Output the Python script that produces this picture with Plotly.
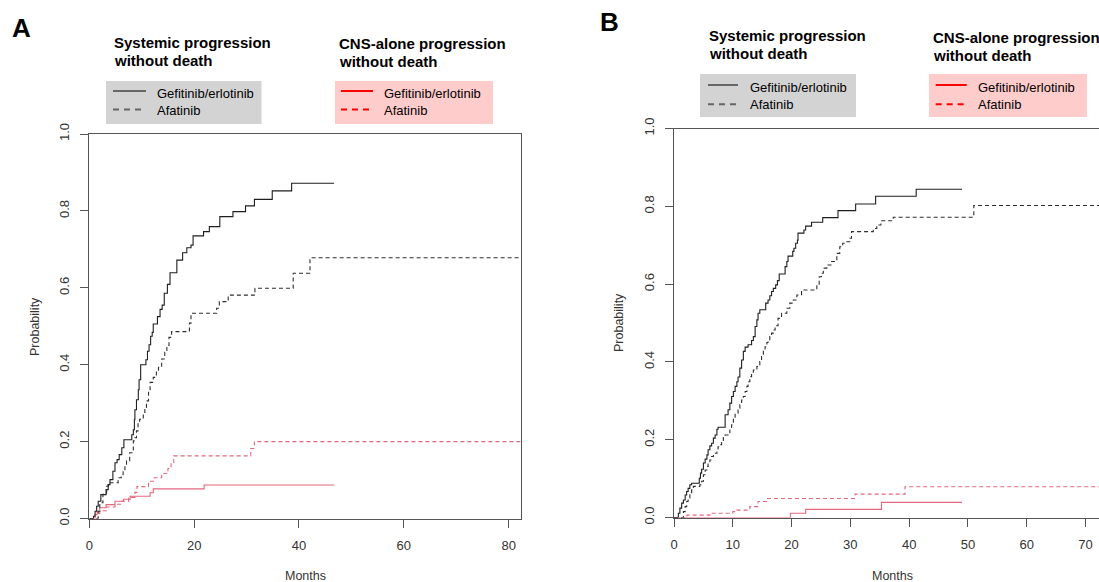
import plotly.graph_objects as go

W, H = 1099, 582

# ---------------- data (months, cumulative probability) ----------------
A_gef_sys_t = [0, 0.8, 1.1, 1.4, 1.7, 2.2, 3.2, 3.6, 3.95, 4.5, 4.9, 5.3, 5.7, 6.2, 6.6, 8.1, 8.4, 8.6, 8.7, 9.0,
               9.35, 9.5, 9.8, 10.8, 11.1, 11.4, 11.7, 12.0, 12.2, 13.0, 13.5, 13.9, 14.3, 14.9, 15.4, 16.7, 17.8,
               18.6, 19.4, 19.8, 21.8, 22.9, 24.9, 27.4, 29.8, 31.5, 34.9, 38.6, 46.7]
A_gef_sys_p = [0, 0.006, 0.019, 0.032, 0.045, 0.062, 0.075, 0.088, 0.101, 0.123, 0.145, 0.153, 0.166, 0.184, 0.205,
               0.218, 0.231, 0.257, 0.283, 0.309, 0.335, 0.361, 0.40, 0.413, 0.435, 0.452, 0.474, 0.484, 0.506, 0.525,
               0.544, 0.555, 0.586, 0.609, 0.639, 0.672, 0.691, 0.704, 0.711, 0.735, 0.746, 0.759, 0.785, 0.798,
               0.813, 0.830, 0.852, 0.872, 0.872]

A_afa_sys_t = [0, 1.7, 2.0, 2.6, 3.3, 3.6, 5.5, 6.1, 6.45, 6.8, 7.1, 7.7, 8.4, 8.7, 9.0, 9.3, 9.6, 10.3, 10.6, 10.9,
               11.3, 11.6, 12.2, 12.8, 13.2, 13.8, 14.4, 14.8, 15.2, 15.7, 19.1, 19.4, 24.3, 24.8, 26.5, 31.6, 38.9,
               42.1, 82.3]
A_afa_sys_p = [0, 0.019, 0.041, 0.063, 0.084, 0.093, 0.106, 0.110, 0.123, 0.137, 0.150, 0.171, 0.202, 0.210, 0.228,
               0.250, 0.258, 0.276, 0.289, 0.306, 0.330, 0.354, 0.367, 0.384, 0.393, 0.415, 0.432, 0.450, 0.471,
               0.486, 0.508, 0.534, 0.547, 0.564, 0.581, 0.599, 0.638, 0.678, 0.678]

A_gef_cns_t = [0, 1.1, 1.5, 2.0, 3.2, 4.9, 6.5, 7.8, 11.6, 12.2, 21.9, 46.7]
A_gef_cns_p = [0, 0.010, 0.019, 0.028, 0.036, 0.045, 0.050, 0.058, 0.067, 0.077, 0.087, 0.087]

A_afa_cns_t = [0, 1.7, 2.0, 3.3, 4.9, 6.2, 7.5, 8.7, 9.1, 11.3, 12.4, 13.8, 15.0, 15.6, 16.1, 30.8, 31.5, 82.3]
A_afa_cns_p = [0, 0.013, 0.020, 0.030, 0.037, 0.045, 0.055, 0.068, 0.083, 0.097, 0.106, 0.117, 0.130, 0.145,
               0.163, 0.182, 0.200, 0.200]

B_gef_sys_t = [0, 0.74, 1.0, 1.3, 1.6, 1.9, 2.15, 2.4, 2.7, 3.0, 4.3, 4.5, 4.7, 5.0, 5.3, 5.6, 5.8, 6.1, 6.4, 6.7,
               7.0, 7.3, 7.5, 8.7, 9.2, 9.5, 9.8, 10.1, 10.4, 10.7, 10.9, 11.2, 11.5, 11.8, 12.1, 12.6, 13.2, 13.5,
               13.8, 14.1, 14.3, 14.6, 15.6, 16.0, 16.3, 16.6, 16.9, 17.3, 17.6, 17.9, 18.9, 19.2, 19.4, 20.2, 20.4,
               20.7, 21.0, 21.1, 22.1, 22.4, 23.4, 25.3, 27.9, 30.9, 34.3, 41.2, 49.0]
B_gef_sys_p = [0, 0.011, 0.024, 0.037, 0.045, 0.058, 0.067, 0.075, 0.084, 0.088, 0.101, 0.114, 0.124, 0.140, 0.150,
               0.161, 0.174, 0.184, 0.191, 0.204, 0.212, 0.227, 0.232, 0.264, 0.277, 0.294, 0.311, 0.324, 0.337,
               0.349, 0.361, 0.384, 0.405, 0.427, 0.438, 0.444, 0.455, 0.465, 0.491, 0.508, 0.525, 0.534, 0.551,
               0.559, 0.570, 0.581, 0.589, 0.598, 0.609, 0.626, 0.645, 0.658, 0.672, 0.684, 0.692, 0.705, 0.713,
               0.731, 0.739, 0.749, 0.759, 0.771, 0.789, 0.806, 0.826, 0.844, 0.844]

B_afa_sys_t = [0, 1.6, 1.9, 2.15, 2.4, 2.7, 3.0, 3.3, 4.4, 4.7, 5.0, 5.3, 5.6, 5.8, 6.1, 6.4, 6.7, 7.3, 7.5, 7.8,
               8.1, 8.4, 8.7, 9.5, 9.8, 10.1, 10.4, 10.9, 11.2, 11.5, 11.8, 12.1, 12.4, 12.6, 12.9, 13.2, 13.5, 14.1,
               14.6, 14.9, 15.2, 15.5, 15.8, 16.0, 16.3, 16.6, 16.9, 17.2, 17.7, 18.3, 19.2, 19.7, 20.3, 20.9, 21.7,
               24.3, 24.7, 25.1, 25.4, 26.0, 26.8, 27.7, 28.2, 28.7, 29.4, 29.9, 30.2, 33.9, 34.5, 35.2, 37.3, 51.0,
               74.0]
B_afa_sys_p = [0, 0.015, 0.028, 0.041, 0.050, 0.063, 0.071, 0.080, 0.084, 0.093, 0.110, 0.122, 0.131, 0.140, 0.148,
               0.157, 0.165, 0.174, 0.182, 0.187, 0.195, 0.208, 0.212, 0.225, 0.238, 0.255, 0.268, 0.281, 0.290,
               0.302, 0.311, 0.324, 0.337, 0.349, 0.362, 0.371, 0.379, 0.388, 0.401, 0.414, 0.427, 0.439, 0.450,
               0.457, 0.465, 0.474, 0.482, 0.493, 0.512, 0.525, 0.538, 0.551, 0.559, 0.572, 0.585, 0.598, 0.619,
               0.628, 0.641, 0.649, 0.658, 0.679, 0.696, 0.705, 0.709, 0.718, 0.735, 0.743, 0.752, 0.763, 0.772,
               0.802, 0.802]

B_gef_cns_t = [0, 19.8, 22.4, 35.3, 49.0]
B_gef_cns_p = [0, 0.011, 0.021, 0.039, 0.039]

B_afa_cns_t = [0, 2.2, 6.1, 10.0, 10.7, 12.9, 14.3, 15.8, 30.8, 39.3, 74.0]
B_afa_cns_p = [0, 0.006, 0.011, 0.015, 0.019, 0.028, 0.041, 0.049, 0.060, 0.079, 0.079]

A_xticks = [0, 20, 40, 60, 80]
B_xticks = [0, 10, 20, 30, 40, 50, 60, 70]
y_ticks = [0.0, 0.2, 0.4, 0.6, 0.8, 1.0]
legend_labels = ["Gefitinib/erlotinib", "Afatinib"]
group_titles = [["Systemic progression", "without death"], ["CNS-alone progression", "without death"]]

# ---------------- styling ----------------
FONT = "Liberation Sans, Arial, sans-serif"
BLACK_SOLID = "#1e1e1e"
BLACK_DASH = "#2e2e2e"
RED_LINE = "#E4677C"
AXIS_COL = "#555555"
TEXT_COL = "#333333"


def px(x):
    return x / W


def py(y):
    return 1 - y / H


fig = go.Figure()


def add_curve(t, p, xa, ya, color, dash):
    fig.add_trace(go.Scatter(x=t, y=p, mode="lines", line=dict(shape="hv", color=color, width=1.1, dash=dash),
                             xaxis=xa, yaxis=ya, showlegend=False, hoverinfo="skip"))


DASH = "4px,3px"
# Panel A
add_curve(A_gef_cns_t, A_gef_cns_p, "x", "y", RED_LINE, "solid")
add_curve(A_afa_cns_t, A_afa_cns_p, "x", "y", RED_LINE, DASH)
add_curve(A_gef_sys_t, A_gef_sys_p, "x", "y", BLACK_SOLID, "solid")
add_curve(A_afa_sys_t, A_afa_sys_p, "x", "y", BLACK_DASH, DASH)
# Panel B
add_curve(B_gef_cns_t, B_gef_cns_p, "x2", "y2", RED_LINE, "solid")
add_curve(B_afa_cns_t, B_afa_cns_p, "x2", "y2", RED_LINE, DASH)
add_curve(B_gef_sys_t, B_gef_sys_p, "x2", "y2", BLACK_SOLID, "solid")
add_curve(B_afa_sys_t, B_afa_sys_p, "x2", "y2", BLACK_DASH, DASH)

axis_common = dict(showgrid=False, zeroline=False, showline=True, linecolor=AXIS_COL, linewidth=1,
                   ticks="outside", ticklen=8, tickcolor=AXIS_COL, tickwidth=1, automargin=False,
                   tickfont=dict(family=FONT, size=13, color=TEXT_COL))
x_common = dict(ticklabelstandoff=7, **axis_common)
y_common = dict(ticklabelstandoff=6, tickformat=".1f", tickangle=-90, range=[0, 1], tickvals=y_ticks,
                **axis_common)

fig.update_layout(
    template="none",
    width=W, height=H, margin=dict(l=0, r=0, t=0, b=0, pad=0, autoexpand=False),
    paper_bgcolor="white", plot_bgcolor="white",
    xaxis=dict(domain=[px(89.3), px(520.7)], range=[0, 82.3], tickvals=A_xticks, anchor="y", mirror=True,
               **x_common),
    yaxis=dict(domain=[py(518.5), py(134.0)], anchor="x", mirror=True, **y_common),
    xaxis2=dict(domain=[px(674.0), 1.0], range=[0, 72.3], tickvals=B_xticks, anchor="y2", mirror=True,
                **x_common),
    yaxis2=dict(domain=[py(517.5), py(128.5)], anchor="x2", mirror=False, **y_common),
)

shapes = []
annotations = []


def text(x, y, s, size, bold=False, anchor="left", angle=0, color="black"):
    annotations.append(dict(x=px(x), y=py(y), xref="paper", yref="paper", text=f"<b>{s}</b>" if bold else s,
                            showarrow=False, xanchor=anchor, yanchor="middle", textangle=angle,
                            font=dict(family=FONT, size=size, color=color)))


def rect(x0, y0, x1, y1, fill):
    shapes.append(dict(type="rect", xref="paper", yref="paper", x0=px(x0), x1=px(x1), y0=py(y1), y1=py(y0),
                       fillcolor=fill, line=dict(width=0), layer="below"))


def hline(x0, x1, y, color, dash):
    shapes.append(dict(type="line", xref="paper", yref="paper", x0=px(x0), x1=px(x1), y0=py(y), y1=py(y),
                       line=dict(color=color, width=2, dash=dash)))


def legend_block(bx0, by0, bx1, by1, fill, linecol, title_x, title_y, title_lines, lx0, lx1, ly, tx, ty):
    rect(bx0, by0, bx1, by1, fill)
    for i, s in enumerate(title_lines):
        text(title_x, title_y[i], s, 15, bold=True)
    for i, lab in enumerate(legend_labels):
        hline(lx0, lx1, ly[i], linecol, "solid" if i == 0 else "6px,5px")
        text(tx, ty[i], lab, 13)


# Panel A decorations
text(21, 28, "A", 26, bold=True, anchor="center")
legend_block(106, 81, 261.5, 124, "#d3d3d3", "#666666", 112.3, [42.3, 60.5], group_titles[0],
             113, 146, [91, 109.5], 154.5, [93.5, 110.5])
legend_block(335, 81, 493, 124, "#ffcccc", "#ff0000", 336.8, [43.3, 62], group_titles[1],
             341, 373, [91, 109.5], 382, [93.5, 110.5])
text(305, 576, "Months", 12.5, anchor="center", color=TEXT_COL)
text(35, 327, "Probability", 12.5, anchor="center", angle=-90, color=TEXT_COL)

# Panel B decorations
text(609, 22.5, "B", 26, bold=True, anchor="center")
legend_block(700, 74, 856, 117, "#d3d3d3", "#666666", 706.7, [35.7, 53.5], group_titles[0],
             708, 738, [85, 104.3], 748.3, [87.7, 104.5])
legend_block(929, 74, 1087, 117, "#ffcccc", "#ff0000", 930.7, [37, 55.5], group_titles[1],
             935.7, 966.7, [85, 104.3], 976, [87.7, 104.5])
text(892, 576, "Months", 12.5, anchor="center", color=TEXT_COL)
text(619, 323, "Probability", 12.5, anchor="center", angle=-90, color=TEXT_COL)

fig.update_layout(shapes=shapes, annotations=annotations)

fig.write_html("out.html")
